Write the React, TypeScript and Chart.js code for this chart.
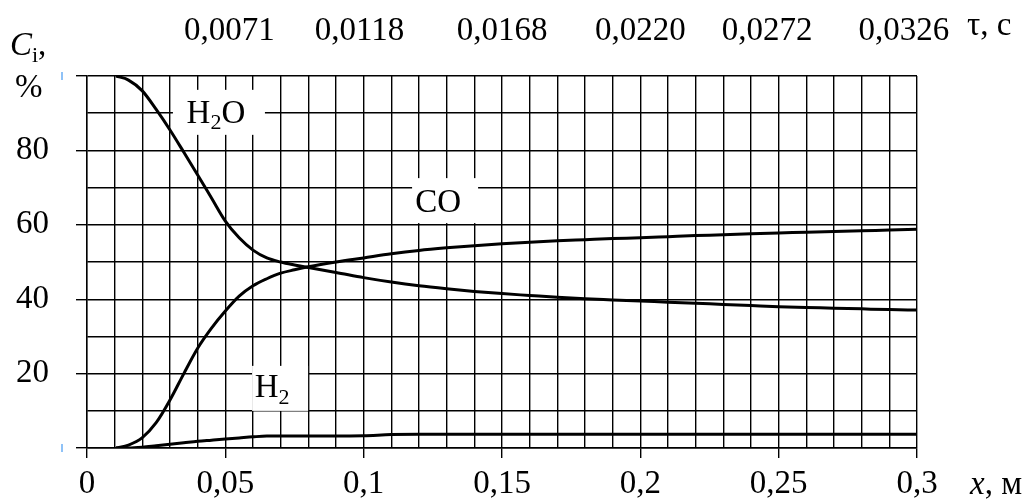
import React, { useEffect, useRef } from 'react';
import { Chart, registerables } from 'chart.js';

Chart.register(...registerables);

// ---- data ----
const xPositions = [
  0.0105, 0.015, 0.02, 0.025, 0.03, 0.035, 0.04, 0.045, 0.05, 0.055, 0.06, 0.065, 0.07,
  0.075, 0.08, 0.09, 0.1, 0.11, 0.12, 0.13, 0.14, 0.15, 0.16, 0.17, 0.18, 0.19, 0.2,
  0.21, 0.22, 0.23, 0.24, 0.25, 0.26, 0.27, 0.28, 0.29, 0.3,
];
const h2oValues = [
  100, 98.9, 96.0, 91, 85.5, 79.5, 73.4, 67.2, 61, 56.5, 53.2, 51.1, 50, 49.2, 48.5, 47.2,
  45.8, 44.6, 43.6, 42.8, 42.1, 41.5, 41.0, 40.5, 40.1, 39.8, 39.5, 39.2, 38.9, 38.6,
  38.3, 38.0, 37.8, 37.6, 37.4, 37.2, 37.1,
];
const coValues = [
  0, 0.8, 2.8, 6.8, 12.9, 20.0, 26.8, 32.2, 36.8, 40.8, 43.6, 45.5, 47, 47.9, 48.7, 50,
  51.1, 52.2, 53.1, 53.8, 54.4, 54.9, 55.3, 55.7, 56.0, 56.3, 56.5, 56.8, 57.1, 57.3,
  57.6, 57.8, 58.0, 58.2, 58.4, 58.6, 58.8,
];
const h2Values = [
  0, 0, 0.2, 0.6, 1.0, 1.4, 1.8, 2.1, 2.4, 2.7, 3.0, 3.2, 3.2, 3.2, 3.2, 3.2, 3.3, 3.6,
  3.7, 3.7, 3.7, 3.7, 3.7, 3.7, 3.7, 3.7, 3.7, 3.7, 3.7, 3.7, 3.7, 3.7, 3.7, 3.7, 3.7,
  3.7, 3.7,
];

const xTickValues = [0, 0.05, 0.1, 0.15, 0.2, 0.25, 0.3];
const xTickLabels = ['0', '0,05', '0,1', '0,15', '0,2', '0,25', '0,3'];
const tauTickValues = [0.0515, 0.0985, 0.15, 0.2, 0.2458, 0.2953];
const tauTickLabels = ['0,0071', '0,0118', '0,0168', '0,0220', '0,0272', '0,0326'];
const yMajorTicks = [0, 20, 40, 60, 80, 100];
const yLabeledTicks = [20, 40, 60, 80];

const seriesNames = ['H2O', 'CO', 'H2'];
const seriesLabelX = [0.0466, 0.1269, 0.0669];
const seriesLabelY = [90.5, 66.5, 16.7];

// ---- styling ----
const FONT = "'Liberation Serif', 'Times New Roman', serif";
const FS = 33;
const GRID_W = 1.4;

const near = (a: number, b: number) => Math.abs(a - b) < 1e-6;
const findIdx = (arr: number[], v: number) => arr.findIndex((a) => near(a, v));

type Part = { t: string; sub?: boolean; italic?: boolean };

function richParts(name: string): Part[] {
  const parts: Part[] = [];
  for (const ch of name) {
    if (/[0-9]/.test(ch)) parts.push({ t: ch, sub: true });
    else parts.push({ t: ch });
  }
  return parts;
}

function drawRich(ctx: CanvasRenderingContext2D, parts: Part[], x: number, baseline: number, size: number, align: 'left' | 'center') {
  const fontFor = (p: Part) => `${p.italic ? 'italic ' : ''}${p.sub ? Math.round(size * 0.66) : size}px ${FONT}`;
  let total = 0;
  const widths = parts.map((p) => {
    ctx.font = fontFor(p);
    const w = ctx.measureText(p.t).width;
    total += w;
    return w;
  });
  let cx = align === 'center' ? x - total / 2 : x;
  ctx.textAlign = 'left';
  ctx.textBaseline = 'alphabetic';
  ctx.fillStyle = '#000';
  parts.forEach((p, i) => {
    ctx.font = fontFor(p);
    ctx.fillText(p.t, cx, p.sub ? baseline + size * 0.2 : baseline);
    cx += widths[i];
  });
}

// white boxes behind the series names (size and offset from the text centre, px)
const labelBoxes = [
  { w: 92, h: 45, dx: 3, dy: 1 },
  { w: 66, h: 45, dx: 7, dy: 0 },
  { w: 56, h: 45, dx: 8, dy: 2.5 },
];

const seriesLabelPlugin = {
  id: 'seriesLabels',
  beforeDatasetsDraw(chart: any) {
    const ctx = chart.ctx as CanvasRenderingContext2D;
    const xs = chart.scales.x;
    const ys = chart.scales.y;
    ctx.save();
    seriesNames.forEach((name, i) => {
      const px = xs.getPixelForValue(seriesLabelX[i]);
      const py = ys.getPixelForValue(seriesLabelY[i]);
      const b = labelBoxes[i];
      ctx.fillStyle = '#fff';
      ctx.fillRect(px + b.dx - b.w / 2, py + b.dy - b.h / 2, b.w, b.h);
      drawRich(ctx, richParts(name), px, py + FS * 0.34, FS, 'center');
    });
    ctx.restore();
  },
};

const axisTitlePlugin = {
  id: 'axisTitles',
  afterDraw(chart: any) {
    const ctx = chart.ctx as CanvasRenderingContext2D;
    const area = chart.chartArea;
    const ys = chart.scales.y;
    ctx.save();
    // Y title: C_i, %
    drawRich(ctx, [{ t: 'C', italic: true }, { t: 'i', sub: true }, { t: ',' }], 10, 55, FS, 'left');
    ctx.font = `${FS}px ${FONT}`;
    ctx.fillStyle = '#000';
    ctx.textAlign = 'left';
    ctx.textBaseline = 'alphabetic';
    ctx.fillText('%', 15, 97);
    // X title
    drawRich(ctx, [{ t: 'x', italic: true }, { t: ', м' }], area.right + 53, 494, FS, 'left');
    // tau title
    drawRich(ctx, [{ t: 'τ, c' }], area.right + 50, 35, FS, 'left');
    // small blue marks
    ctx.strokeStyle = '#6aaef5';
    ctx.lineWidth = 1.5;
    [100, 0].forEach((v) => {
      const py = ys.getPixelForValue(v);
      ctx.beginPath();
      ctx.moveTo(area.left - 25, py - 4);
      ctx.lineTo(area.left - 25, py + 4);
      ctx.stroke();
    });
    ctx.restore();
  },
};

export default function App() {
  const canvasRef = useRef<HTMLCanvasElement | null>(null);

  useEffect(() => {
    if (!canvasRef.current) return;
    const mk = (vals: number[]) => xPositions.map((x, i) => ({ x, y: vals[i] }));
    const lineDs = (label: string, vals: number[]) => ({
      label,
      data: mk(vals),
      borderColor: '#000',
      borderWidth: 3,
      pointRadius: 0,
      fill: false,
      cubicInterpolationMode: 'monotone' as const,
    });

    const chart = new Chart(canvasRef.current, {
      type: 'line',
      data: {
        datasets: [
          lineDs('H2O', h2oValues),
          lineDs('CO', coValues),
          lineDs('H2', h2Values),
        ],
      },
      options: {
        animation: false,
        responsive: false,
        maintainAspectRatio: false,
        layout: { padding: { left: 0, top: 0, right: 113, bottom: 0 } },
        plugins: {
          legend: { display: false },
          tooltip: { enabled: false },
        },
        scales: {
          x: {
            type: 'linear',
            position: 'bottom',
            min: 0,
            max: 0.3,
            afterBuildTicks: (scale: any) => {
              const t = [];
              for (let i = 0; i <= 30; i++) t.push({ value: Math.round(i * 10) / 1000 });
              scale.ticks = t;
            },
            afterFit: (scale: any) => {
              scale.height = 54;
            },
            ticks: {
              autoSkip: false,
              maxRotation: 0,
              padding: 7,
              color: '#000',
              font: { family: FONT, size: FS },
              callback: (v: any) => {
                const i = findIdx(xTickValues, Number(v));
                return i >= 0 ? xTickLabels[i] : '';
              },
            },
            grid: {
              color: '#000',
              lineWidth: GRID_W,
              drawTicks: true,
              tickLength: 10,
              tickColor: (c: any) => (findIdx(xTickValues, c.tick?.value) >= 0 ? '#000' : 'rgba(0,0,0,0)'),
            },
            border: { display: true, color: '#000', width: GRID_W },
          },
          x2: {
            type: 'linear',
            position: 'top',
            min: 0,
            max: 0.3,
            afterBuildTicks: (scale: any) => {
              scale.ticks = tauTickValues.map((v) => ({ value: v }));
            },
            afterFit: (scale: any) => {
              scale.height = 76;
            },
            ticks: {
              autoSkip: false,
              maxRotation: 0,
              padding: 25,
              color: '#000',
              font: { family: FONT, size: FS },
              callback: (v: any) => {
                const i = findIdx(tauTickValues, Number(v));
                return i >= 0 ? tauTickLabels[i] : '';
              },
            },
            grid: { display: false, drawTicks: false },
            border: { display: false },
          },
          y: {
            type: 'linear',
            position: 'left',
            min: 0,
            max: 100,
            ticks: {
              stepSize: 10,
              autoSkip: false,
              padding: 27,
              color: '#000',
              font: { family: FONT, size: FS },
              callback: (v: any) => (yLabeledTicks.includes(Number(v)) ? String(v) : ''),
            },
            afterFit: (scale: any) => {
              scale.width = 87;
            },
            grid: {
              color: '#000',
              lineWidth: GRID_W,
              drawTicks: true,
              tickLength: 11,
              tickColor: (c: any) => (yMajorTicks.includes(c.tick?.value) ? '#000' : 'rgba(0,0,0,0)'),
            },
            border: { display: true, color: '#000', width: GRID_W },
          },
        },
      },
      plugins: [seriesLabelPlugin, axisTitlePlugin],
    } as any);

    return () => chart.destroy();
  }, []);

  return (
    <div style={{ position: 'fixed', left: 0, top: 0, width: 1030, height: 502, background: '#fff' }}>
      <canvas ref={canvasRef} width={1030} height={502} style={{ width: 1030, height: 502, display: 'block' }} />
    </div>
  );
}
